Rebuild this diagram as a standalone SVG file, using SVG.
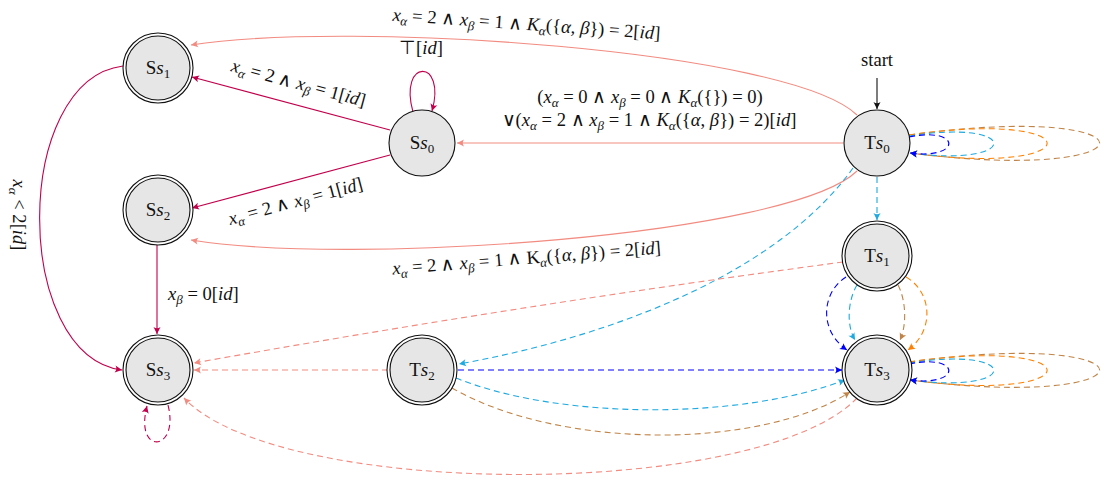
<svg xmlns="http://www.w3.org/2000/svg" width="1104" height="484" viewBox="0 0 1104 484">
<style>
.lbl{font-family:"Liberation Serif",serif;font-size:18.6px;fill:#111}
.i{font-style:italic}
.sub{font-size:13px;font-style:italic}
.nl{font-family:"Liberation Serif",serif;font-size:19px;fill:#111}
.e{fill:none;stroke-width:1.1}
.d{stroke-dasharray:6 4}
.sal{stroke:#f28b80}
.cri{stroke:#c2004b}
.blu{stroke:#0000ff}
.cya{stroke:#1ea9e0}
.ora{stroke:#ff8000}
.brn{stroke:#c08448}
.blk{stroke:#111}
.n1{fill:#e6e6e6;stroke:#111;stroke-width:1.1}
.n0{fill:#fff;stroke:#111;stroke-width:1.1}
</style>
<defs>
<marker id="aSal" viewBox="-8 -5 9 10" refX="0" refY="0" markerWidth="9" markerHeight="10" markerUnits="userSpaceOnUse" orient="auto"><path d="M0 0L-7 -3.5Q-4.5 0 -7 3.5Z" fill="#f28b80"/></marker>
<marker id="aCri" viewBox="-8 -5 9 10" refX="0" refY="0" markerWidth="9" markerHeight="10" markerUnits="userSpaceOnUse" orient="auto"><path d="M0 0L-7 -3.5Q-4.5 0 -7 3.5Z" fill="#c2004b"/></marker>
<marker id="aBlu" viewBox="-8 -5 9 10" refX="0" refY="0" markerWidth="9" markerHeight="10" markerUnits="userSpaceOnUse" orient="auto"><path d="M0 0L-7 -3.5Q-4.5 0 -7 3.5Z" fill="#0000ff"/></marker>
<marker id="aCya" viewBox="-8 -5 9 10" refX="0" refY="0" markerWidth="9" markerHeight="10" markerUnits="userSpaceOnUse" orient="auto"><path d="M0 0L-7 -3.5Q-4.5 0 -7 3.5Z" fill="#1ea9e0"/></marker>
<marker id="aOra" viewBox="-8 -5 9 10" refX="0" refY="0" markerWidth="9" markerHeight="10" markerUnits="userSpaceOnUse" orient="auto"><path d="M0 0L-7 -3.5Q-4.5 0 -7 3.5Z" fill="#ff8000"/></marker>
<marker id="aBrn" viewBox="-8 -5 9 10" refX="0" refY="0" markerWidth="9" markerHeight="10" markerUnits="userSpaceOnUse" orient="auto"><path d="M0 0L-7 -3.5Q-4.5 0 -7 3.5Z" fill="#c08448"/></marker>
<marker id="aBlk" viewBox="-8 -5 9 10" refX="0" refY="0" markerWidth="9" markerHeight="10" markerUnits="userSpaceOnUse" orient="auto"><path d="M0 0L-7 -3.5Q-4.5 0 -7 3.5Z" fill="#111"/></marker>
</defs>

<g id="connectors">
<path class="e sal" d="M857 115C790 50 350 20 191 45" marker-end="url(#aSal)"/>
<path class="e sal" d="M843 143L457 143" marker-end="url(#aSal)"/>
<path class="e sal" d="M857 171C790 236 350 266 191 240" marker-end="url(#aSal)"/>
<path class="e cri" d="M390 130L192 77" marker-end="url(#aCri)"/>
<path class="e cri" d="M390 155L192 208" marker-end="url(#aCri)"/>
<path class="e cri" d="M413 112C398 58 447 58 432 111" marker-end="url(#aCri)"/>
<path class="e cri" d="M123 66C12 80 12 355 122 370" marker-end="url(#aCri)"/>
<path class="e cri" d="M157 245L157 334" marker-end="url(#aCri)"/>
<path class="e cri d" d="M168 405C180 452 134 456 147 406" marker-end="url(#aCri)"/>
<path class="e blk" d="M877 78L877 109" marker-end="url(#aBlk)"/>
<path class="e d brn" d="M909 135C1163 100 1163 185 910 153" marker-end="url(#aBrn)"/>
<path class="e d ora" d="M909 135C1093 108 1093 178 910 153" marker-end="url(#aOra)"/>
<path class="e d cya" d="M909 136C1022 118 1022 168 910 153" marker-end="url(#aCya)"/>
<path class="e d blu" d="M909 137C962 126 962 160 910 153" marker-end="url(#aBlu)"/>
<path class="e d cya" d="M877 177L877 220" marker-end="url(#aCya)"/>
<path class="e d cya" d="M853 168C780 270 620 335 459 364" marker-end="url(#aCya)"/>
<path class="e d sal" d="M843 262Q520 305 194 363" marker-end="url(#aSal)"/>
<path class="e d blu" d="M846 277C822 292 818 330 847 350" marker-end="url(#aBlu)"/>
<path class="e d cya" d="M857 285C848 300 846 325 855 340" marker-end="url(#aCya)"/>
<path class="e d brn" d="M898 285C906 300 907 325 900 340" marker-end="url(#aBrn)"/>
<path class="e d ora" d="M906 277C932 292 935 330 908 350" marker-end="url(#aOra)"/>
<path class="e d brn" d="M909 362C1163 327 1163 412 910 380" marker-end="url(#aBrn)"/>
<path class="e d ora" d="M909 362C1093 335 1093 405 910 380" marker-end="url(#aOra)"/>
<path class="e d cya" d="M909 363C1022 345 1022 395 910 380" marker-end="url(#aCya)"/>
<path class="e d blu" d="M909 364C962 353 962 387 910 380" marker-end="url(#aBlu)"/>
<path class="e d sal" d="M388 370L194 370" marker-end="url(#aSal)"/>
<path class="e d blu" d="M458 370L842 370" marker-end="url(#aBlu)"/>
<path class="e d cya" d="M456 378C560 420 740 420 845 380" marker-end="url(#aCya)"/>
<path class="e d brn" d="M452 388C560 450 760 450 850 392" marker-end="url(#aBrn)"/>
<path class="e d sal" d="M857 398C760 500 280 500 184 398" marker-end="url(#aSal)"/>
</g>

<g id="labels">
<text class="lbl" text-anchor="middle" transform="translate(526,30) rotate(4)"><tspan class="i">x</tspan><tspan class="sub" dy="4">α</tspan><tspan dy="-4"> = 2 ∧ </tspan><tspan class="i">x</tspan><tspan class="sub" dy="4">β</tspan><tspan dy="-4"> = 1 ∧ </tspan><tspan class="i">K</tspan><tspan class="sub" dy="4">α</tspan><tspan dy="-4">({</tspan><tspan class="i">α</tspan>, <tspan class="i">β</tspan>}) = 2[<tspan class="i">id</tspan>]</text>
<text class="lbl" text-anchor="middle" x="650" y="103">(<tspan class="i">x</tspan><tspan class="sub" dy="4">α</tspan><tspan dy="-4"> = 0 ∧ </tspan><tspan class="i">x</tspan><tspan class="sub" dy="4">β</tspan><tspan dy="-4"> = 0 ∧ </tspan><tspan class="i">K</tspan><tspan class="sub" dy="4">α</tspan><tspan dy="-4">({}) = 0)</tspan></text>
<text class="lbl" text-anchor="middle" x="649" y="126">∨(<tspan class="i">x</tspan><tspan class="sub" dy="4">α</tspan><tspan dy="-4"> = 2 ∧ </tspan><tspan class="i">x</tspan><tspan class="sub" dy="4">β</tspan><tspan dy="-4"> = 1 ∧ </tspan><tspan class="i">K</tspan><tspan class="sub" dy="4">α</tspan><tspan dy="-4">({</tspan><tspan class="i">α</tspan>, <tspan class="i">β</tspan>}) = 2)[<tspan class="i">id</tspan>]</text>
<text class="lbl" text-anchor="middle" transform="translate(527,264) rotate(-4.5)"><tspan class="i">x</tspan><tspan class="sub" dy="4">α</tspan><tspan dy="-4"> = 2 ∧ </tspan><tspan class="i">x</tspan><tspan class="sub" dy="4">β</tspan><tspan dy="-4"> = 1 ∧ K</tspan><tspan class="sub" dy="4">α</tspan><tspan dy="-4">({</tspan><tspan class="i">α</tspan>, <tspan class="i">β</tspan>}) = 2[<tspan class="i">id</tspan>]</text>
<text class="lbl" text-anchor="middle" transform="translate(297,89) rotate(15)"><tspan class="i">x</tspan><tspan class="sub" dy="4">α</tspan><tspan dy="-4"> = 2 ∧ </tspan><tspan class="i">x</tspan><tspan class="sub" dy="4">β</tspan><tspan dy="-4"> = 1[</tspan><tspan class="i">id</tspan>]</text>
<text class="lbl" text-anchor="middle" transform="translate(297,207) rotate(-15)"><tspan class="i">x</tspan><tspan class="sub" dy="4">α</tspan><tspan dy="-4"> = 2 ∧ </tspan><tspan class="i">x</tspan><tspan class="sub" dy="4">β</tspan><tspan dy="-4"> = 1[</tspan><tspan class="i">id</tspan>]</text>
<text class="lbl" text-anchor="middle" x="421" y="54">⊤[<tspan class="i">id</tspan>]</text>
<text class="lbl" text-anchor="middle" transform="translate(13,215) rotate(90)"><tspan class="i">x</tspan><tspan class="sub" dy="4">α</tspan><tspan dy="-4"> &lt; 2[</tspan><tspan class="i">id</tspan>]</text>
<text class="lbl" x="168" y="300"><tspan class="i">x</tspan><tspan class="sub" dy="4">β</tspan><tspan dy="-4"> = 0[</tspan><tspan class="i">id</tspan>]</text>
<text class="lbl" text-anchor="middle" x="877" y="66">start</text>
</g>

<g id="Ss1"><circle class="n0" cx="158" cy="68" r="35"/><circle class="n1" cx="158" cy="68" r="32"/><text class="nl" text-anchor="middle" x="158" y="74">S<tspan class="i">s</tspan><tspan font-size="13" dy="4">1</tspan></text></g>
<g id="Ss0"><circle class="n1" cx="422" cy="143" r="33"/><text class="nl" text-anchor="middle" x="422" y="149">S<tspan class="i">s</tspan><tspan font-size="13" dy="4">0</tspan></text></g>
<g id="Ss2"><circle class="n0" cx="158" cy="210" r="35"/><circle class="n1" cx="158" cy="210" r="32"/><text class="nl" text-anchor="middle" x="158" y="216">S<tspan class="i">s</tspan><tspan font-size="13" dy="4">2</tspan></text></g>
<g id="Ss3"><circle class="n0" cx="158" cy="370" r="35"/><circle class="n1" cx="158" cy="370" r="32"/><text class="nl" text-anchor="middle" x="158" y="376">S<tspan class="i">s</tspan><tspan font-size="13" dy="4">3</tspan></text></g>
<g id="Ts0"><circle class="n1" cx="877" cy="143" r="33"/><text class="nl" text-anchor="middle" x="877" y="149">T<tspan class="i">s</tspan><tspan font-size="13" dy="4">0</tspan></text></g>
<g id="Ts1"><circle class="n0" cx="877" cy="256" r="35"/><circle class="n1" cx="877" cy="256" r="32"/><text class="nl" text-anchor="middle" x="877" y="262">T<tspan class="i">s</tspan><tspan font-size="13" dy="4">1</tspan></text></g>
<g id="Ts2"><circle class="n0" cx="422" cy="370" r="35"/><circle class="n1" cx="422" cy="370" r="32"/><text class="nl" text-anchor="middle" x="422" y="376">T<tspan class="i">s</tspan><tspan font-size="13" dy="4">2</tspan></text></g>
<g id="Ts3"><circle class="n0" cx="877" cy="370" r="35"/><circle class="n1" cx="877" cy="370" r="32"/><text class="nl" text-anchor="middle" x="877" y="376">T<tspan class="i">s</tspan><tspan font-size="13" dy="4">3</tspan></text></g>
</svg>
